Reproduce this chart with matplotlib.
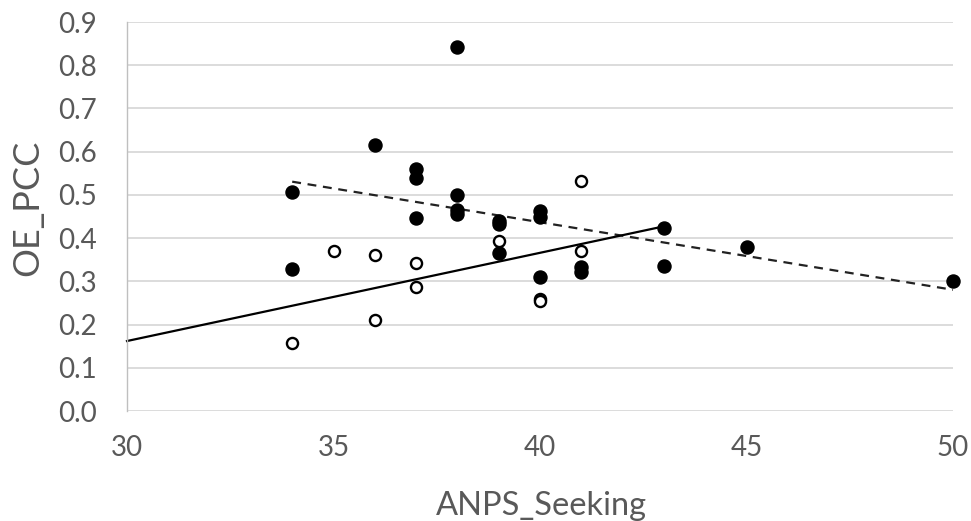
import numpy as np
import matplotlib
matplotlib.use('Agg')
import matplotlib.pyplot as plt

plt.rcParams['font.family'] = ['Lato', 'DejaVu Sans']

# filled series (black dots) and its dashed trendline
filled_x = [34, 34, 36, 37, 37, 37, 38, 38, 38, 38, 39, 39, 39,
            40, 40, 40, 41, 41, 43, 43, 45, 50]
filled_y = [0.506, 0.329, 0.615, 0.559, 0.540, 0.447, 0.842, 0.499, 0.466, 0.455,
            0.440, 0.432, 0.366, 0.462, 0.450, 0.310, 0.333, 0.322,
            0.424, 0.336, 0.379, 0.300]

# open series (hollow circles) and its solid trendline
open_x = [34, 35, 36, 36, 37, 37, 39, 40, 40, 41, 41]
open_y = [0.157, 0.370, 0.360, 0.211, 0.343, 0.287, 0.393, 0.259, 0.254, 0.532, 0.370]

# trendline ranges (excel style forecast)
filled_trend_range = [34, 50]
open_trend_range = [30, 43]

x_ticks = [30, 35, 40, 45, 50]
y_ticks = [0.0, 0.1, 0.2, 0.3, 0.4, 0.5, 0.6, 0.7, 0.8, 0.9]

grey = '#595959'

fig = plt.figure(figsize=(9.71, 5.21), dpi=100)
ax = fig.add_axes([127/971, 1 - 411/521, 826/971, 389/521])
ax.set_xlim(30, 50)
ax.set_ylim(0, 0.9)

ax.set_yticks(y_ticks)
ax.set_yticklabels([f'{v:.1f}' for v in y_ticks])
ax.set_xticks(x_ticks)
ax.grid(axis='y', color='#d9d9d9', lw=1.3)
ax.set_axisbelow(True)
for s in ['top', 'right', 'bottom']:
    ax.spines[s].set_visible(False)
ax.spines['left'].set_color('#bfbfbf')
ax.spines['left'].set_linewidth(1.0)
ax.tick_params(axis='both', length=0, labelsize=20, colors=grey)
ax.tick_params(axis='y', pad=22)
ax.tick_params(axis='x', pad=17)

# trendlines
k1, b1 = np.polyfit(filled_x, filled_y, 1)
tx = np.array(filled_trend_range)
ax.plot(tx, k1 * tx + b1, color='#222222', lw=1.6, ls=(0, (4, 3)), clip_on=False, zorder=2)

k2, b2 = np.polyfit(open_x, open_y, 1)
tx = np.array(open_trend_range)
ax.plot(tx, k2 * tx + b2, color='black', lw=1.6, clip_on=False, zorder=2)

ax.plot(filled_x, filled_y, 'o', ms=9.4, color='black', mec='black', clip_on=False, zorder=3)
ax.plot(open_x, open_y, 'o', ms=8, mfc='white', mec='black', mew=1.7, clip_on=False, zorder=3)

fig.text(541/971, 1 - 506/521, 'ANPS_Seeking', ha='center', va='center', fontsize=23.5, color=grey)
fig.text(28/971, 1 - 208/521, 'OE_PCC', ha='center', va='center', rotation=90, fontsize=26, color=grey)

fig.savefig('out.png', dpi=100, facecolor='white')
